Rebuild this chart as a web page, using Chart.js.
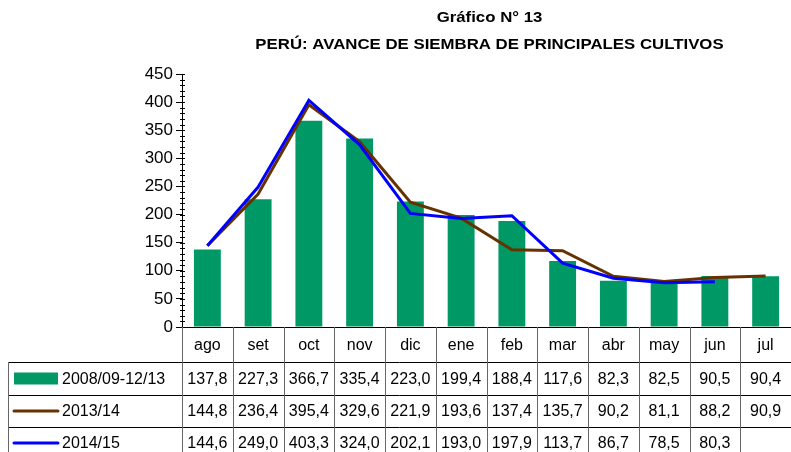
<!DOCTYPE html>
<html>
<head>
<meta charset="utf-8">
<script src="https://cdn.jsdelivr.net/npm/chart.js@4"></script>
<style>
  body { margin: 0; background: #fff; }
  #wrap { width: 791px; height: 452px; }
</style>
</head>
<body>
<div id="wrap"><canvas id="myChart" width="791" height="452"></canvas></div>
<script>
const months = ['ago', 'set', 'oct', 'nov', 'dic', 'ene', 'feb', 'mar', 'abr', 'may', 'jun', 'jul'];
const avg0813 = [137.8, 227.3, 366.7, 335.4, 223.0, 199.4, 188.4, 117.6, 82.3, 82.5, 90.5, 90.4];
const camp1314 = [144.8, 236.4, 395.4, 329.6, 221.9, 193.6, 137.4, 135.7, 90.2, 81.1, 88.2, 90.9];
const camp1415 = [144.6, 249.0, 403.3, 324.0, 202.1, 193.0, 197.9, 113.7, 86.7, 78.5, 80.3, null];
const yTicks = [0, 50, 100, 150, 200, 250, 300, 350, 400, 450];
const titleLines = ['Gráfico N° 13', 'PERÚ: AVANCE DE SIEMBRA DE PRINCIPALES CULTIVOS'];

const GREEN = '#009966';
const BROWN = '#663300';
const BLUE = '#0000ff';
const FONT = '"Liberation Sans", Arial, sans-serif';

const fmt = v => v == null ? '' : v.toFixed(1).replace('.', ',');

// title, data table with legend keys, minor ticks on y
const tablePlugin = {
  id: 'tablePlugin',
  afterDraw(chart) {
    const c = chart.ctx;
    const area = chart.chartArea;
    const x = chart.scales.x;
    const y = chart.scales.y;
    const colW = (area.right - area.left) / months.length;
    c.save();

    // title (excel draws it a bit wide, so stretch it)
    c.fillStyle = '#000';
    c.textAlign = 'center';
    c.textBaseline = 'middle';
    c.font = 'bold 15px ' + FONT;
    const cx = (area.left + area.right) / 2 + 3;
    c.save();
    c.translate(cx, 0);
    c.scale(1.12, 1);
    c.fillText(titleLines[0], 0, 18);
    c.fillText(titleLines[1], 0, 45);
    c.restore();

    // minor ticks
    c.strokeStyle = '#000';
    c.lineWidth = 1;
    c.beginPath();
    for (let v = 0; v <= 450; v += 10) {
      const py = Math.round(y.getPixelForValue(v)) + 0.5;
      c.moveTo(area.left - 2, py);
      c.lineTo(area.left + 3, py);
    }
    c.stroke();

    // table lines
    const top = area.bottom;
    const rowY = [top + 35, top + 68, top + 100, top + 132];
    const H = chart.height;
    c.strokeStyle = '#000';
    c.beginPath();
    for (let i = 0; i < 3; i++) {
      const ly = Math.round(rowY[i]) + 0.5;
      c.moveTo(8, ly);
      c.lineTo(area.right, ly);
    }
    c.stroke();
    c.strokeStyle = '#666';
    c.beginPath();
    for (let i = 0; i <= months.length; i++) {
      const lx = Math.round(area.left + i * colW) + 0.5;
      c.moveTo(lx, top);
      c.lineTo(lx, H);
    }
    c.moveTo(8.5, rowY[0]);
    c.lineTo(8.5, H);
    c.stroke();

    // header labels
    c.font = '16px ' + FONT;
    c.fillStyle = '#000';
    months.forEach((m, i) => {
      c.fillText(m, x.getPixelForValue(i), (top + rowY[0]) / 2 + 1);
    });

    // rows
    const series = [avg0813, camp1314, camp1415];
    const names = ['2008/09-12/13', '2013/14', '2014/15'];
    series.forEach((s, r) => {
      const my = (rowY[r] + rowY[r + 1]) / 2 + 1;
      s.forEach((v, i) => {
        c.textAlign = 'center';
        c.fillText(fmt(v), x.getPixelForValue(i), my);
      });
      // legend key
      if (r === 0) {
        c.fillStyle = GREEN;
        c.fillRect(14, my - 7, 44, 12);
      } else {
        c.strokeStyle = r === 1 ? BROWN : BLUE;
        c.lineWidth = 3;
        c.lineCap = 'round';
        c.beginPath();
        c.moveTo(14, my - 1);
        c.lineTo(58, my - 1);
        c.stroke();
      }
      c.fillStyle = '#000';
      c.textAlign = 'left';
      c.fillText(names[r], 62, my);
    });
    c.restore();
  }
};

const ctx = document.getElementById('myChart');
new Chart(ctx, {
  type: 'bar',
  data: {
    labels: months,
    datasets: [
      {
        type: 'line',
        label: '2014/15',
        data: camp1415,
        borderColor: BLUE,
        backgroundColor: BLUE,
        borderWidth: 3,
        pointRadius: 0,
        tension: 0,
        order: 0
      },
      {
        type: 'line',
        label: '2013/14',
        data: camp1314,
        borderColor: BROWN,
        backgroundColor: BROWN,
        borderWidth: 3,
        pointRadius: 0,
        tension: 0,
        order: 1
      },
      {
        label: '2008/09-12/13',
        data: avg0813,
        backgroundColor: GREEN,
        categoryPercentage: 1,
        barPercentage: 0.53,
        order: 2
      }
    ]
  },
  options: {
    responsive: false,
    animation: false,
    layout: { padding: { top: 74, right: 0, bottom: 125, left: 0 } },
    plugins: {
      legend: { display: false },
      title: { display: false },
      tooltip: { enabled: false }
    },
    scales: {
      x: {
        offset: true,
        ticks: { display: false },
        grid: { display: false, drawTicks: false },
        border: { display: true, color: '#000', width: 1 },
        afterFit(s) { s.height = 0; }
      },
      y: {
        min: 0,
        max: 450,
        afterBuildTicks(s) { s.ticks = yTicks.map(v => ({ value: v })); },
        ticks: {
          color: '#000',
          padding: 3,
          font: { family: FONT, size: 17 }
        },
        grid: { display: true, drawOnChartArea: false, drawTicks: true, tickLength: 6, color: '#000' },
        border: { display: true, color: '#000', width: 1 },
        afterFit(s) { s.width = 182; }
      }
    }
  },
  plugins: [tablePlugin]
});
</script>
</body>
</html>
